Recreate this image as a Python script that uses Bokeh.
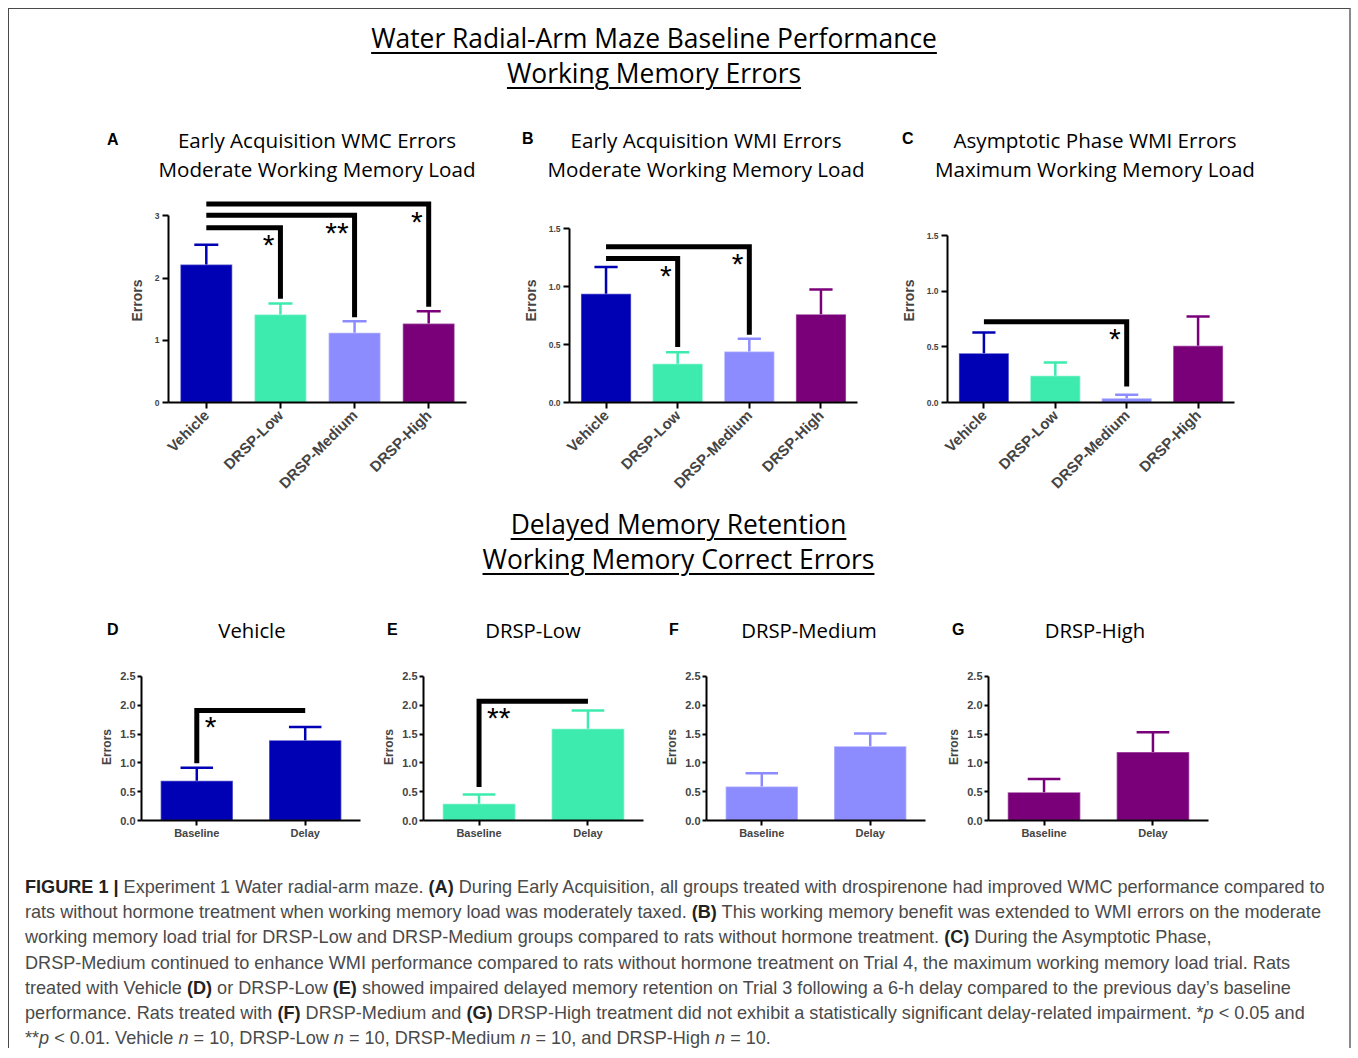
from math import pi
from bokeh.plotting import figure
from bokeh.layouts import column, row
from bokeh.models import Range1d, FixedTicker, NumeralTickFormatter, Div
from bokeh.core.properties import value
from bokeh.embed import file_html
from bokeh.resources import INLINE

# ---------------- data ----------------
groups = ["Vehicle", "DRSP-Low", "DRSP-Medium", "DRSP-High"]
group_colors = ["#0000B4", "#3DEBAE", "#8C8CFF", "#7A007A"]

# A: Early Acquisition WMC errors
a_mean = [2.22, 1.415, 1.12, 1.27]
a_sem = [0.315, 0.175, 0.187, 0.198]
a_yticks = [0, 1, 2, 3]
a_brk_from = [0, 0, 0]
a_brk_to = [1, 2, 3]
a_brk_height = [2.81, 3.01, 3.19]
a_brk_drop = [1.67, 1.37, 1.54]
a_brk_label = ["*", "**", "*"]

# B: Early Acquisition WMI errors
b_mean = [0.94, 0.334, 0.44, 0.763]
b_sem = [0.23, 0.10, 0.11, 0.213]
b_yticks = [0.0, 0.5, 1.0, 1.5]
b_brk_from = [0, 0]
b_brk_to = [1, 2]
b_brk_height = [1.243, 1.345]
b_brk_drop = [0.48, 0.585]
b_brk_label = ["*", "*"]

# C: Asymptotic Phase WMI errors
c_mean = [0.444, 0.24, 0.039, 0.51]
c_sem = [0.186, 0.12, 0.031, 0.264]
c_yticks = [0.0, 0.5, 1.0, 1.5]
c_brk_from = [0]
c_brk_to = [2]
c_brk_height = [0.726]
c_brk_drop = [0.144]
c_brk_label = ["*"]

# D-G: Delayed memory retention
phases = ["Baseline", "Delay"]
dg_yticks = [0.0, 0.5, 1.0, 1.5, 2.0, 2.5]
d_mean = [0.69, 1.394]
d_sem = [0.225, 0.226]
d_brk_from = [0]
d_brk_to = [1]
d_brk_height = [1.91]
d_brk_drop = [0.995]
d_brk_label = ["*"]
e_mean = [0.29, 1.59]
e_sem = [0.16, 0.32]
e_brk_from = [0]
e_brk_to = [1]
e_brk_height = [2.07]
e_brk_drop = [0.58]
e_brk_label = ["**"]
f_mean = [0.59, 1.29]
f_sem = [0.23, 0.22]
g_mean = [0.49, 1.19]
g_sem = [0.23, 0.34]

TITLE_FONT = "Open Sans"
AX_FONT = "Liberation Sans"


def panel(cats, means, sems, colors, yticks, yfmt, y_end, geom, bar_w, cap_half,
          small, brk=None, drop_side="right"):
    L, FW, R, T, FH, B = geom
    n = len(cats)
    xs = list(range(n))
    p = figure(width=L + FW + R, height=T + FH + B,
               x_range=Range1d(-0.51, n - 1 + 0.51), y_range=Range1d(0, y_end),
               min_border_left=L, min_border_right=R, min_border_top=T, min_border_bottom=B,
               output_backend="svg", toolbar_location=None, outline_line_color=None,
               background_fill_color="white", border_fill_color="white")
    p.title.visible = False
    p.xgrid.visible = False
    p.ygrid.visible = False

    tops = [m + s for m, s in zip(means, sems)]
    p.vbar(x=xs, top=means, bottom=0, width=bar_w, fill_color=colors,
           line_color="white", line_alpha=0.35, line_width=1.5)
    p.segment(x0=xs, y0=means, x1=xs, y1=tops, line_color=colors, line_width=2.5)
    p.segment(x0=[x - cap_half for x in xs], y0=tops, x1=[x + cap_half for x in xs], y1=tops,
              line_color=colors, line_width=2.5)

    if brk is not None:
        frm, to, hts, drops, labels = brk
        bx, by = [], []
        for f, t, h, d in zip(frm, to, hts, drops):
            if drop_side == "right":
                bx.append([f, t, t])
                by.append([h, h, d])
            else:
                bx.append([f, f, t])
                by.append([d, h, h])
        p.multi_line(xs=bx, ys=by, line_color="black", line_width=5, line_join="miter")
        if drop_side == "right":
            p.text(x=to, y=hts, text=labels, text_align="right", text_baseline="alphabetic",
                   x_offset=-6, y_offset=17, text_font=value(AX_FONT), text_font_size="30px",
                   text_color="black")
        else:
            p.text(x=frm, y=hts, text=labels, text_align="left", text_baseline="alphabetic",
                   x_offset=8, y_offset=16, text_font=value(AX_FONT), text_font_size="30px",
                   text_color="black")

    ya = p.yaxis[0]
    ya.bounds = (0, yticks[-1])
    ya.ticker = FixedTicker(ticks=yticks)
    ya.formatter = NumeralTickFormatter(format=yfmt)
    ya.axis_label = "Errors"
    ya.axis_label_text_font = AX_FONT
    ya.axis_label_text_font_style = "bold"
    ya.axis_label_text_font_size = "12px" if small else "14px"
    ya.axis_label_standoff = 3 if small else 7
    ya.major_label_text_font = AX_FONT
    ya.major_label_text_font_style = "bold"
    ya.major_label_text_font_size = "11px" if small else "8.5px"
    ya.major_label_standoff = 2 if small else 3
    ya.major_tick_out = 4 if small else 6
    ya.major_tick_in = 0
    ya.axis_line_width = 2
    ya.major_tick_line_width = 2
    ya.axis_line_color = "black"

    xa = p.xaxis[0]
    xa.ticker = FixedTicker(ticks=xs)
    xa.major_label_overrides = {i: c for i, c in zip(xs, cats)}
    xa.major_label_text_font = AX_FONT
    xa.major_label_text_font_style = "bold"
    xa.major_label_text_font_size = "11px" if small else "15px"
    xa.major_label_orientation = "horizontal" if small else pi / 4
    xa.major_label_standoff = 1 if small else 4
    xa.major_tick_out = 5 if small else 6
    xa.major_tick_in = 0
    xa.axis_line_width = 2
    xa.major_tick_line_width = 2
    xa.axis_line_color = "black"
    return p


def title_div(width, height, letter, letter_x, letter_top, lines, center_x, line_tops, fsize):
    html = f'<div style="position:relative; width:{width}px; height:{height}px; overflow:visible;">'
    html += (f'<div style="position:absolute; left:{letter_x}px; top:{letter_top}px; '
             f'font-family:\'Liberation Sans\'; font-weight:bold; font-size:16px; line-height:16px; '
             f'color:#000;">{letter}</div>')
    for txt, t in zip(lines, line_tops):
        html += (f'<div style="position:absolute; left:{center_x - 300}px; width:600px; top:{t}px; '
                 f'text-align:center; font-family:\'Open Sans\'; font-size:{fsize}px; line-height:28px; '
                 f'white-space:nowrap; color:#000;">{txt}</div>')
    html += '</div>'
    return Div(text=html, width=width, height=height, margin=(0, 0, 0, 0))


# ---- row 1 (A, B, C): shared frame top/bottom ----
R1_T, R1_FH, R1_B = 16, 204, 98
pA = panel(groups, a_mean, a_sem, group_colors, a_yticks, "0", 3.28,
           (159, 298, 24, R1_T, R1_FH, R1_B), 0.70, 0.162, False,
           (a_brk_from, a_brk_to, a_brk_height, a_brk_drop, a_brk_label), "right")
pB = panel(groups, b_mean, b_sem, group_colors, b_yticks, "0.0", 1.762,
           (79, 288, 23, R1_T, R1_FH, R1_B), 0.70, 0.162, False,
           (b_brk_from, b_brk_to, b_brk_height, b_brk_drop, b_brk_label), "right")
pC = panel(groups, c_mean, c_sem, group_colors, c_yticks, "0.0", 1.836,
           (67, 287, 114, R1_T, R1_FH, R1_B), 0.70, 0.162, False,
           (c_brk_from, c_brk_to, c_brk_height, c_brk_drop, c_brk_label), "right")

tA = title_div(481, 74, "A", 98, 24, ["Early Acquisition WMC Errors", "Moderate Working Memory Load"], 308, [18, 47], 20.6)
tB = title_div(390, 74, "B", 32, 23, ["Early Acquisition WMI Errors", "Moderate Working Memory Load"], 216, [18, 47], 20.6)
tC = title_div(469, 74, "C", 22, 23, ["Asymptotic Phase WMI Errors", "Maximum Working Memory Load"], 215, [18, 47], 20.6)

# ---- row 2 (D-G) ----
R2_T, R2_FH, R2_B = 23, 147, 30
pD = panel(phases, d_mean, d_sem, [group_colors[0]] * 2, dg_yticks, "0.0", 2.55,
           (132, 219, 13, R2_T, R2_FH, R2_B), 0.667, 0.15, True,
           (d_brk_from, d_brk_to, d_brk_height, d_brk_drop, d_brk_label), "left")
pE = panel(phases, e_mean, e_sem, [group_colors[1]] * 2, dg_yticks, "0.0", 2.55,
           (50, 220, 13, R2_T, R2_FH, R2_B), 0.667, 0.15, True,
           (e_brk_from, e_brk_to, e_brk_height, e_brk_drop, e_brk_label), "left")
pF = panel(phases, f_mean, f_sem, [group_colors[2]] * 2, dg_yticks, "0.0", 2.55,
           (50, 219, 14, R2_T, R2_FH, R2_B), 0.667, 0.15, True)
pG = panel(phases, g_mean, g_sem, [group_colors[3]] * 2, dg_yticks, "0.0", 2.55,
           (49, 220, 140, R2_T, R2_FH, R2_B), 0.667, 0.15, True)

tD = title_div(364, 50, "D", 98, 22, ["Vehicle"], 243, [16], 20.3)
tE = title_div(283, 50, "E", 14, 22, ["DRSP-Low"], 160, [16], 20.3)
tF = title_div(283, 50, "F", 13, 22, ["DRSP-Medium"], 153, [16], 20.3)
tG = title_div(410, 50, "G", 13, 22, ["DRSP-High"], 156, [16], 20.3)

UL = "text-decoration: underline; text-decoration-thickness: 2px; text-underline-offset: 4px;"
header = Div(text=(
    f'<div style="width:1290px; padding-top:12px; font-family:\'Open Sans\'; font-size:26.4px; line-height:35px; '
    f'text-align:center; color:#000; white-space:nowrap;">'
    f'<span style="{UL}">Water Radial-Arm Maze Baseline Performance</span><br>'
    f'<span style="{UL}">Working Memory Errors</span></div>'),
    width=1290, height=99, margin=(0, 0, 0, 0))

middle = Div(text=(
    f'<div style="width:1339px; padding-top:7px; font-family:\'Open Sans\'; font-size:26.4px; line-height:35px; '
    f'text-align:center; color:#000; white-space:nowrap;">'
    f'<span style="{UL}">Delayed Memory Retention</span><br>'
    f'<span style="{UL}">Working Memory Correct Errors</span></div>'),
    width=1339, height=100, margin=(0, 0, 0, 0))

BS = "<b style='color:#222'>"
caption_lines = [
    f"{BS}FIGURE 1 |</b> Experiment 1 Water radial-arm maze. {BS}(A)</b> During Early Acquisition, all groups treated with drospirenone had improved WMC performance compared to",
    f"rats without hormone treatment when working memory load was moderately taxed. {BS}(B)</b> This working memory benefit was extended to WMI errors on the moderate",
    f"working memory load trial for DRSP-Low and DRSP-Medium groups compared to rats without hormone treatment. {BS}(C)</b> During the Asymptotic Phase,",
    "DRSP-Medium continued to enhance WMI performance compared to rats without hormone treatment on Trial 4, the maximum working memory load trial. Rats",
    f"treated with Vehicle {BS}(D)</b> or DRSP-Low {BS}(E)</b> showed impaired delayed memory retention on Trial 3 following a 6-h delay compared to the previous day\u2019s baseline",
    f"performance. Rats treated with {BS}(F)</b> DRSP-Medium and {BS}(G)</b> DRSP-High treatment did not exhibit a statistically significant delay-related impairment. *<i>p</i> &lt; 0.05 and",
    "**<i>p</i> &lt; 0.01. Vehicle <i>n</i> = 10, DRSP-Low <i>n</i> = 10, DRSP-Medium <i>n</i> = 10, and DRSP-High <i>n</i> = 10.",
]
caption = Div(text=(
    '<div style="padding:25px 0 0 16px; font-family:\'Liberation Sans\'; font-size:18.1px; '
    'line-height:25.2px; color:#4a4a4a; white-space:nowrap;">'
    + "<br>".join(caption_lines) + "</div>"),
    width=1339, height=198, margin=(0, 0, 0, 0))

page = column(header,
              row(tA, tB, tC, spacing=0),
              row(pA, pB, pC, spacing=0),
              middle,
              row(tD, tE, tF, tG, spacing=0),
              row(pD, pE, pF, pG, spacing=0),
              caption, spacing=0, margin=(8, 0, 0, 8),
              styles={"border-top": "1px solid #4a4a4a", "border-left": "1px solid #4a4a4a",
                      "border-right": "2px solid #8a8a8a"})

open("out.html", "w").write(file_html(page, INLINE))
